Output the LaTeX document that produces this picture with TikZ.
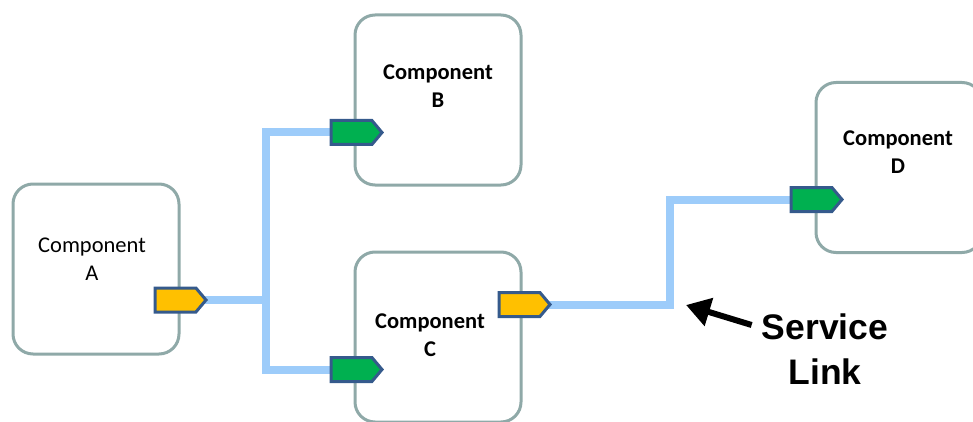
\documentclass[tikz,border=0pt]{standalone}
\usepackage{fontspec}
\setmainfont{Carlito}
\newfontfamily\arialbf{Liberation Sans}
\usetikzlibrary{shapes.symbols,arrows.meta}
\definecolor{boxgray}{HTML}{8FA9A8}
\definecolor{portblue}{HTML}{355A8C}
\definecolor{portyellow}{HTML}{FFC000}
\definecolor{portgreen}{HTML}{00B050}
\definecolor{linkblue}{HTML}{9DCCFA}

\begin{document}
\begin{tikzpicture}[x=1pt,y=-1pt]
        \tikzset{comp/.style = {rectangle,draw=boxgray,line width=3pt,rounded corners=20pt,fill=white,minimum width=166pt,minimum height=170pt,inner sep=0pt}}
        \tikzset{complabel/.style = {align=center,font=\fontsize{22.5}{27.5}\selectfont}}
        \tikzset{port/.style = {signal,signal to=east,signal pointer angle=100,draw=portblue,line width=3pt,minimum width=51pt,minimum height=24pt,inner sep=0pt,anchor=west}}
        \tikzset{provided/.style = {port,fill=portyellow}}
        \tikzset{required/.style = {port,fill=portgreen}}
        \tikzset{link/.style = {draw=linkblue,line width=8pt,line join=miter}}
        \useasboundingbox (0,0) rectangle (973,422);
        % components
        \node[comp] (A) at (96,269)    {};
        \node[comp] (B) at (438,100)   {};
        \node[comp] (C) at (438,337)   {};
        \node[comp] (D) at (899,167.5) {};
        \node[complabel] (tA) at (92,259)  {Component\\A};
        \node[complabel,font=\fontsize{22.5}{27.5}\selectfont\bfseries] (tB) at (438,86)  {Component\\B};
        \node[complabel,font=\fontsize{22.5}{27.5}\selectfont\bfseries] (tC) at (430,335) {Component\\C};
        \node[complabel,font=\fontsize{22.5}{27.5}\selectfont\bfseries] (tD) at (898,152) {Component\\D};
        % links
        \coordinate (j1) at (266,300);
        \coordinate (j2) at (670,304.5);
        \draw[link] (153.5,300) -- (j1);
        \draw[link] (329.5,132.5) -| (j1) |- (329.5,369.5);
        \draw[link] (497.5,304.5) -- (j2) |- (789.5,199.5);
        % ports
        \node[provided] (pA)  at (153.5,300)   {};
        \node[required] (pB)  at (329.5,132.5) {};
        \node[required] (pC)  at (329.5,369.5) {};
        \node[provided] (pC2) at (497.5,304.5) {};
        \node[required] (pD)  at (789.5,199.5) {};
        % label
        \node[align=center,inner sep=0pt,anchor=north,font=\fontsize{35.5}{45}\arialbf\bfseries] (svc) at (825,314) {Service\\Link};
        \coordinate (tip) at (686,305);
        \draw[line width=6pt,-{Triangle[length=24pt,width=28pt]}] ([shift={(-10,11)}]svc.north west) -- (tip);
\end{tikzpicture}
\end{document}
